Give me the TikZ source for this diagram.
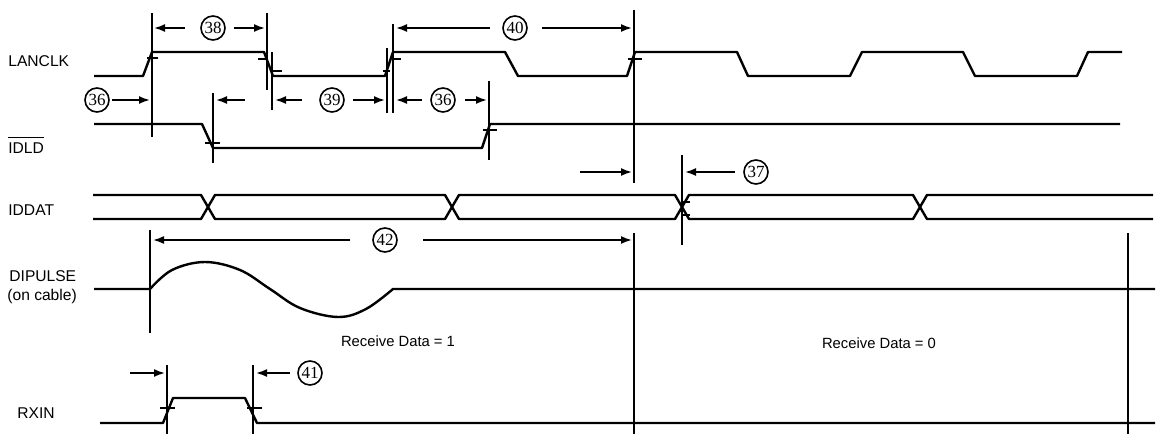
\documentclass[tikz,border=0pt]{standalone}
\usepackage{fontspec}
\setmainfont{Liberation Sans}
\newfontfamily\numfont{Liberation Serif}
\usetikzlibrary{arrows.meta}
\begin{document}
\begin{tikzpicture}[x=0.5pt,y=-0.5pt,
  sig/.style={line width=1.2pt,line join=round},
  vl/.style={line width=0.9pt},
  tk/.style={line width=0.8pt},
  dim/.style={line width=0.9pt,-{Latex[length=5.5pt,width=4pt]}},
  cnum/.style={circle,draw,line width=0.8pt,minimum size=12pt,inner sep=0pt,font=\numfont\fontsize{8.5}{9}\selectfont},
  lab/.style={font=\fontsize{7.8}{9}\selectfont,inner sep=0pt,anchor=west},
  txt/.style={font=\fontsize{7.4}{8}\selectfont,inner sep=0pt},
]
\useasboundingbox (0,0) rectangle (1158,434);
% labels
\node[lab] (lanclk) at (8,61) {LANCLK};
\node[lab] (idld) at (8,148) {IDLD};
\draw[line width=0.6pt] ([yshift=2.5pt]idld.north west) -- ([yshift=2.5pt]idld.north east);
\node[lab] (iddat) at (8,210) {IDDAT};
\node[lab] (dipulse) at (9,276) {DIPULSE};
\node[lab] (oncable) at (7,296) {(on cable)};
\node[lab] (rxin) at (17,413) {RXIN};
\node[txt] (rd1) at (398,341) {Receive Data = 1};
\node[txt] (rd0) at (879,343) {Receive Data = 0};
% LANCLK
\draw[sig] (94,76) -- (143,76) -- (152,52) -- (264,52) -- (273,76) -- (385,76) -- (393,52) -- (505,52) -- (518,76) -- (627,76) -- (635,52) -- (737,52) -- (748,76) -- (850,76) -- (862,52) -- (963,52) -- (975,76) -- (1077,76) -- (1088,52) -- (1122,52);
% IDLD
\draw[sig] (94,124) -- (202,124) -- (213,148) -- (482,148) -- (490,124) -- (1120,124);
% IDDAT
\draw[sig] (93,195) -- (201,195) -- (215,219) -- (445,219) -- (459,195) -- (675,195) -- (689,219) -- (913,219) -- (927,195) -- (1153,195);
\draw[sig] (93,219) -- (201,219) -- (215,195) -- (445,195) -- (459,219) -- (675,219) -- (689,195) -- (913,195) -- (927,219) -- (1153,219);
% DIPULSE
\draw[sig] (94,289) -- (150,289) plot[smooth,tension=0.6] coordinates {(150,289) (172,270) (205,262) (240,270) (270,289) (300,308) (338,317) (366,309) (393,289)} -- (1155,289);
% RXIN
\draw[sig] (100,423) -- (163,423) -- (173,398) -- (245,398) -- (257,423) -- (1155,423);
% vertical reference lines
\draw[vl] (152,13) -- (152,137);
\draw[vl] (267,13) -- (267,90);
\draw[vl] (272,52) -- (272,110);
\draw[vl] (387,48) -- (387,113);
\draw[vl] (393,24) -- (393,113);
\draw[vl] (213,93) -- (213,163);
\draw[vl] (489,81) -- (489,160);
\draw[vl] (634,10) -- (634,183);
\draw[vl] (682,155) -- (682,245);
\draw[vl] (150,230) -- (150,333);
\draw[vl] (634,233) -- (634,434);
\draw[vl] (1128,233) -- (1128,434);
\draw[vl] (167,365) -- (167,434);
\draw[vl] (253,365) -- (253,434);
% threshold ticks
\draw[tk] (147,58) -- (158,58);
\draw[tk] (258,59) -- (267,59);
\draw[tk] (272,71) -- (282,71);
\draw[tk] (383,71) -- (390,71);
\draw[tk] (393,59) -- (401,59);
\draw[tk] (628,59) -- (642,59);
\draw[tk] (205,143) -- (220,143);
\draw[tk] (483,130) -- (497,130);
\draw[tk] (682,202) -- (690,202);
\draw[tk] (682,215) -- (690,215);
\draw[tk] (160,408) -- (175,408);
\draw[tk] (247,408) -- (262,408);
% dimensions
\node[cnum] (n38) at (213,28) {38};
\draw[dim] (185,28) -- (154,28);
\draw[dim] (234,28) -- (265,28);
\node[cnum] (n40) at (515,28) {40};
\draw[dim] (490,28) -- (396,28);
\draw[dim] (542,28) -- (632,28);
\node[cnum] (n36a) at (97,100) {36};
\draw[dim] (112,100) -- (150,100);
\draw[dim] (245,100) -- (216,100);
\node[cnum] (n39) at (332,100) {39};
\draw[dim] (302,100) -- (275,100);
\draw[dim] (353,100) -- (385,100);
\node[cnum] (n36b) at (443,100) {36};
\draw[dim] (422,100) -- (396,100);
\draw[dim] (465,100) -- (487,100);
\node[cnum] (n37) at (756,172) {37};
\draw[dim] (580,172) -- (632,172);
\draw[dim] (735,172) -- (685,172);
\node[cnum] (n42) at (385,240) {42};
\draw[dim] (350,240) -- (153,240);
\draw[dim] (423,240) -- (632,240);
\node[cnum] (n41) at (310,373) {41};
\draw[dim] (130,373) -- (165,373);
\draw[dim] (290,373) -- (256,373);
\end{tikzpicture}
\end{document}
